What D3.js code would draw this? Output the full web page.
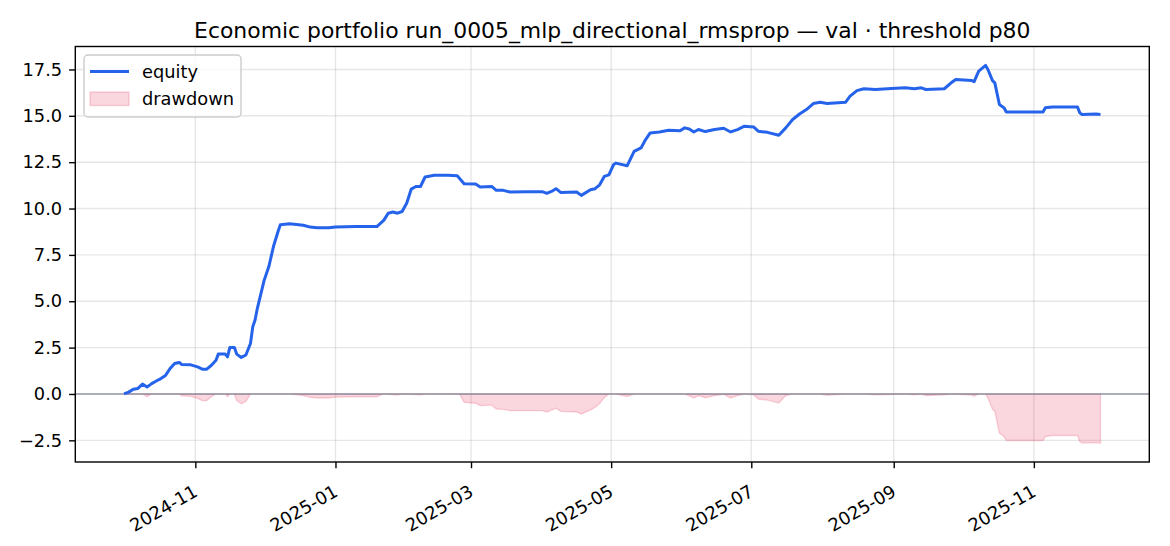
<html>
    <head>
        <meta charset="utf-8">
        <script src="https://d3js.org/d3.v7.min.js"></script>
        <style>
            body { margin: 0; background: #fff; }
        </style>
    </head>
<body>
    <svg id="equityChart" width="1170" height="546"></svg>

    <script>
        // equity curve
        const equityDates = ["2024-10-01","2024-10-03","2024-10-05","2024-10-07","2024-10-09","2024-10-11","2024-10-13","2024-10-15",
            "2024-10-17","2024-10-19","2024-10-21","2024-10-23","2024-10-25","2024-10-26","2024-10-30","2024-11-02","2024-11-04",
            "2024-11-06","2024-11-08","2024-11-10","2024-11-11","2024-11-14","2024-11-15","2024-11-16","2024-11-18","2024-11-19",
            "2024-11-21","2024-11-23","2024-11-25","2024-11-26","2024-11-27","2024-11-28","2024-12-01","2024-12-03","2024-12-05",
            "2024-12-07","2024-12-08","2024-12-12","2024-12-18","2024-12-21","2024-12-24","2024-12-29","2025-01-01","2025-01-10",
            "2025-01-19","2025-01-22","2025-01-24","2025-01-26","2025-01-28","2025-01-30","2025-02-01","2025-02-03","2025-02-05",
            "2025-02-07","2025-02-09","2025-02-13","2025-02-19","2025-02-23","2025-02-26","2025-03-03","2025-03-05","2025-03-10",
            "2025-03-12","2025-03-15","2025-03-18","2025-03-25","2025-04-01","2025-04-03","2025-04-05","2025-04-07","2025-04-09",
            "2025-04-16","2025-04-18","2025-04-22","2025-04-24","2025-04-26","2025-04-28","2025-04-30","2025-05-02","2025-05-03",
            "2025-05-08","2025-05-11","2025-05-14","2025-05-16","2025-05-18","2025-05-22","2025-05-26","2025-05-31","2025-06-02",
            "2025-06-04","2025-06-06","2025-06-08","2025-06-11","2025-06-15","2025-06-19","2025-06-22","2025-06-25","2025-06-28",
            "2025-07-02","2025-07-04","2025-07-08","2025-07-13","2025-07-16","2025-07-19","2025-07-22","2025-07-25","2025-07-28",
            "2025-07-31","2025-08-03","2025-08-11","2025-08-13","2025-08-16","2025-08-19","2025-08-24","2025-08-31","2025-09-06",
            "2025-09-10","2025-09-13","2025-09-15","2025-09-23","2025-09-26","2025-09-28","2025-10-05","2025-10-06","2025-10-08",
            "2025-10-11","2025-10-12","2025-10-14","2025-10-15","2025-10-17","2025-10-19","2025-10-20","2025-11-05","2025-11-06",
            "2025-11-09","2025-11-20","2025-11-21","2025-11-22","2025-11-28","2025-11-30"];
        const equityValues = [0, 0.1, 0.26, 0.3, 0.53, 0.38, 0.56, 0.7,
            0.83, 1.0, 1.37, 1.64, 1.7, 1.59, 1.57, 1.46, 1.34,
            1.34, 1.55, 1.82, 2.15, 2.15, 2.0, 2.5, 2.5, 2.15,
            1.97, 2.1, 2.72, 3.62, 3.99, 4.62, 6.15, 6.87, 7.95,
            8.76, 9.12, 9.18, 9.1, 9.0, 8.96, 8.96, 9.01, 9.03,
            9.03, 9.36, 9.75, 9.81, 9.75, 9.84, 10.29, 11.05, 11.19,
            11.19, 11.7, 11.79, 11.79, 11.77, 11.34, 11.32, 11.16, 11.19,
            10.98, 10.98, 10.89, 10.91, 10.91, 10.82, 10.92, 11.07, 10.87,
            10.89, 10.71, 11.01, 11.07, 11.28, 11.73, 11.82, 12.36, 12.45,
            12.31, 13.08, 13.27, 13.72, 14.08, 14.13, 14.22, 14.2, 14.35,
            14.29, 14.13, 14.26, 14.15, 14.26, 14.33, 14.13, 14.26, 14.44,
            14.4, 14.17, 14.11, 13.95, 14.35, 14.8, 15.1, 15.34, 15.66,
            15.73, 15.66, 15.73, 16.06, 16.36, 16.46, 16.42, 16.47, 16.51,
            16.46, 16.51, 16.42, 16.46, 16.78, 16.96, 16.9, 16.84, 17.41,
            17.72, 17.5, 16.9, 16.78, 15.61, 15.43, 15.21, 15.21, 15.43,
            15.48, 15.48, 15.16, 15.07, 15.1, 15.07];

        // drawdown below zero
        const drawdownDates = ["2024-10-01","2024-10-09","2024-10-11","2024-10-13","2024-10-25","2024-10-26","2024-10-30","2024-11-02",
            "2024-11-04","2024-11-06","2024-11-08","2024-11-10","2024-11-14","2024-11-15","2024-11-16","2024-11-18","2024-11-19",
            "2024-11-21","2024-11-23","2024-11-25","2024-12-12","2024-12-18","2024-12-21","2024-12-24","2024-12-29","2025-01-01",
            "2025-01-10","2025-01-19","2025-01-22","2025-01-28","2025-01-30","2025-02-05","2025-02-07","2025-02-09","2025-02-19",
            "2025-02-23","2025-02-24","2025-02-26","2025-03-03","2025-03-05","2025-03-10","2025-03-12","2025-03-15","2025-03-18",
            "2025-04-01","2025-04-03","2025-04-05","2025-04-07","2025-04-09","2025-04-16","2025-04-18","2025-04-22","2025-04-24",
            "2025-04-26","2025-04-28","2025-04-30","2025-05-03","2025-05-08","2025-05-11","2025-06-02","2025-06-06","2025-06-08",
            "2025-06-11","2025-06-15","2025-06-19","2025-06-22","2025-06-25","2025-06-28","2025-07-02","2025-07-04","2025-07-08",
            "2025-07-13","2025-07-16","2025-07-19","2025-07-31","2025-08-03","2025-08-11","2025-08-19","2025-08-24","2025-09-06",
            "2025-09-10","2025-09-13","2025-09-15","2025-09-23","2025-09-26","2025-10-05","2025-10-06","2025-10-08","2025-10-11",
            "2025-10-12","2025-10-14","2025-10-15","2025-10-17","2025-10-19","2025-10-20","2025-11-05","2025-11-06","2025-11-09",
            "2025-11-20","2025-11-21","2025-11-22","2025-11-28","2025-11-30"];
        const drawdownValues = [0, 0, -0.15, 0, 0, -0.1, -0.13, -0.24,
            -0.36, -0.36, -0.15, 0, 0, -0.15, 0, 0, -0.35,
            -0.53, -0.4, 0, 0, -0.08, -0.18, -0.22, -0.22, -0.17,
            -0.15, -0.15, 0, -0.06, 0, -0.03, -0.05, 0, 0,
            -0.02, 0, -0.45, -0.5, -0.63, -0.6, -0.81, -0.83, -0.9,
            -0.9, -0.97, -0.87, -0.77, -0.94, -0.97, -1.08, -0.86, -0.72,
            -0.51, -0.2, 0, 0, -0.14, 0, 0, -0.22, -0.09,
            -0.2, -0.09, -0.02, -0.22, -0.09, 0, -0.04, -0.27, -0.33,
            -0.49, -0.09, 0, 0, -0.07, 0, 0, -0.05, 0,
            -0.05, 0, -0.09, -0.05, 0, -0.06, -0.12, 0, 0,
            -0.22, -0.82, -0.94, -2.11, -2.29, -2.51, -2.51, -2.29, -2.24,
            -2.24, -2.56, -2.65, -2.62, -2.65];

        const yTickValues = [-2.5, 0, 2.5, 5, 7.5, 10, 12.5, 15, 17.5];
        const xTickLabels = ["2024-11", "2025-01", "2025-03", "2025-05", "2025-07", "2025-09", "2025-11"];

        const titleText = "Economic portfolio run_0005_mlp_directional_rmsprop \u2014 val \u00b7 threshold p80";
        const legendLabels = ["equity", "drawdown"];

        const parseDate = d3.timeParse("%Y-%m-%d");
        const parseMonth = d3.timeParse("%Y-%m");
        const equity = equityDates.map((d, i) => ({date: parseDate(d), value: equityValues[i]}));
        const drawdown = drawdownDates.map((d, i) => ({date: parseDate(d), value: drawdownValues[i]}));

        let svg = d3.select("svg#equityChart");
        let box = {"left": 75.3, "right": 1149.3, "top": 46.5, "bottom": 462};
        const font = "DejaVu Sans, Verdana, sans-serif";
        const tickFont = "17.8px";
        const blue = "#2563eb";
        const pink = "rgba(225, 29, 72, 0.18)";

        //scales, with 5% padding like matplotlib
        const xExt = d3.extent(equity, d => d.date);
        const xPad = (xExt[1] - xExt[0]) * 0.05;
        let xScale = d3.scaleTime()
            .domain([new Date(+xExt[0] - xPad), new Date(+xExt[1] + xPad)])
            .range([box.left, box.right]);

        const yMin = Math.min(d3.min(equityValues), d3.min(drawdownValues));
        const yMax = Math.max(d3.max(equityValues), d3.max(drawdownValues));
        const yPad = (yMax - yMin) * 0.05;
        let yScale = d3.scaleLinear()
            .domain([yMin - yPad, yMax + yPad])
            .range([box.bottom, box.top]);

        const xTicks = xTickLabels.map(parseMonth);

        //grid lines
        xTicks.forEach(function(t) {
            svg.append("line")
                .attr("x1", xScale(t)).attr("x2", xScale(t))
                .attr("y1", box.top).attr("y2", box.bottom)
                .style("stroke", "#b0b0b0").style("stroke-opacity", 0.3).style("stroke-width", 1.4);
        });
        yTickValues.forEach(function(v) {
            svg.append("line")
                .attr("x1", box.left).attr("x2", box.right)
                .attr("y1", yScale(v)).attr("y2", yScale(v))
                .style("stroke", "#b0b0b0").style("stroke-opacity", 0.3).style("stroke-width", 1.4);
        });

        //drawdown area
        let area = d3.area()
            .x(d => xScale(d.date))
            .y0(yScale(0))
            .y1(d => yScale(d.value));
        svg.append("path")
            .datum(drawdown)
            .attr("d", area)
            .style("fill", pink)
            .style("stroke", pink)
            .style("stroke-width", 1.4);

        //zero line
        svg.append("line")
            .attr("x1", box.left).attr("x2", box.right)
            .attr("y1", yScale(0)).attr("y2", yScale(0))
            .style("stroke", "#7d8597").style("stroke-opacity", 0.8).style("stroke-width", 1.4);

        //equity line
        let line = d3.line()
            .x(d => xScale(d.date))
            .y(d => yScale(d.value));
        svg.append("path")
            .datum(equity)
            .attr("d", line)
            .style("fill", "none")
            .style("stroke", blue)
            .style("stroke-width", 3)
            .style("stroke-linejoin", "round")
            .style("stroke-linecap", "butt");

        //x axis
        let xAxis = d3.axisBottom(xScale)
            .tickValues(xTicks)
            .tickFormat(d3.timeFormat("%Y-%m"))
            .tickSizeInner(6.2).tickSizeOuter(0);
        let gx = svg.append("g")
            .attr("transform", "translate(0," + box.bottom + ")")
            .call(xAxis);
        gx.select(".domain").remove();
        gx.selectAll(".tick line").style("stroke", "#000").style("stroke-width", 1.4);
        gx.selectAll(".tick text")
            .attr("x", 0).attr("y", 0).attr("dy", null)
            .attr("text-anchor", "end")
            .attr("transform", "translate(3,33) rotate(-30)")
            .style("font-family", font).style("font-size", tickFont).style("fill", "#000");

        //y axis
        let yAxis = d3.axisLeft(yScale)
            .tickValues(yTickValues)
            .tickFormat(d => d3.format(".1f")(d).replace("-", "\u2212"))
            .tickSizeInner(6.2).tickSizeOuter(0).tickPadding(7);
        let gy = svg.append("g")
            .attr("transform", "translate(" + box.left + ",0)")
            .call(yAxis);
        gy.select(".domain").remove();
        gy.selectAll(".tick line").style("stroke", "#000").style("stroke-width", 1.4);
        gy.selectAll(".tick text")
            .style("font-family", font).style("font-size", tickFont).style("fill", "#000");

        //frame
        svg.append("rect")
            .attr("x", box.left).attr("y", box.top)
            .attr("width", box.right - box.left).attr("height", box.bottom - box.top)
            .style("fill", "none").style("stroke", "#000").style("stroke-width", 1.4);

        //title
        svg.append("text")
            .attr("x", (box.left + box.right) / 2)
            .attr("y", 37.5)
            .attr("text-anchor", "middle")
            .style("font-family", font).style("font-size", "21.9px").style("fill", "#000")
            .text(titleText);

        //legend
        let legend = svg.append("g").attr("transform", "translate(84,55)");
        legend.append("rect")
            .attr("width", 157).attr("height", 62).attr("rx", 4)
            .style("fill", "#fff").style("fill-opacity", 0.8)
            .style("stroke", "#cccccc").style("stroke-width", 1.4);
        legend.append("line")
            .attr("x1", 6).attr("x2", 45).attr("y1", 16.5).attr("y2", 16.5)
            .style("stroke", blue).style("stroke-width", 3);
        legend.append("rect")
            .attr("x", 6).attr("y", 37).attr("width", 39).attr("height", 13.5)
            .style("fill", pink).style("stroke", pink).style("stroke-width", 1.4);
        legendLabels.forEach(function(l, i) {
            legend.append("text")
                .attr("x", 58).attr("y", 16.5 + i * 27.5)
                .attr("dy", "0.35em")
                .style("font-family", font).style("font-size", tickFont).style("fill", "#000")
                .text(l);
        });
    </script>
</body>
</html>
